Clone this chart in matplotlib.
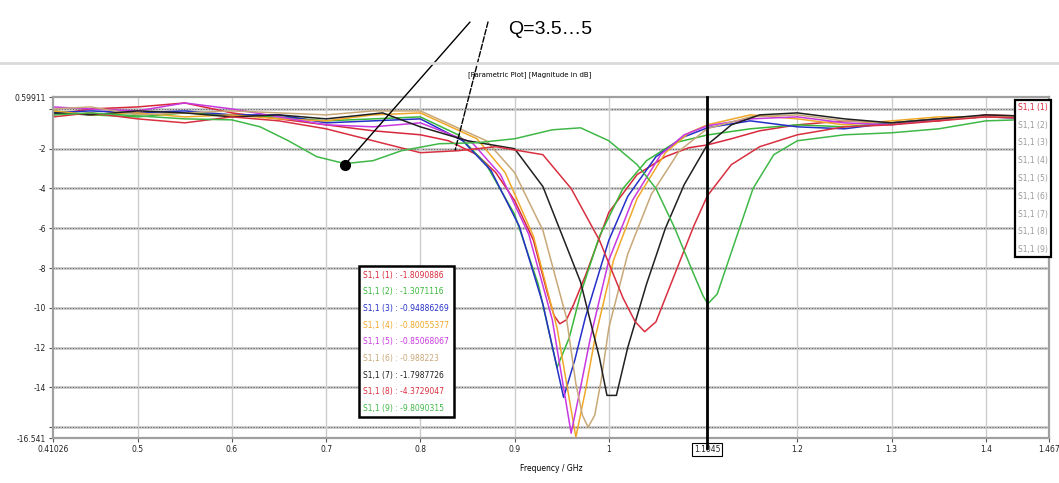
import matplotlib
matplotlib.use('Agg')
from matplotlib import pyplot as plt
from matplotlib.lines import Line2D

# frequencies (GHz) and S1,1 magnitude (dB), one pair per run
f1 = [0.41026, 0.45, 0.5, 0.55, 0.6, 0.65, 0.7, 0.75, 0.8, 0.83, 0.86, 0.88, 0.9, 0.92, 0.935, 0.942, 0.948, 0.955, 0.962, 0.975, 1.0, 1.03, 1.06, 1.085, 1.1045, 1.13, 1.16, 1.2, 1.25, 1.3, 1.35, 1.4, 1.467]
s1 = [-0.3, 0.0, 0.1, 0.3, -0.2, -0.5, -0.8, -1.1, -1.3, -1.6, -2.3, -3.2, -4.6, -6.6, -9.3, -10.4, -10.8, -10.6, -9.9, -8.4, -5.2, -3.3, -2.4, -1.95, -1.81, -1.5, -1.1, -0.8, -0.6, -0.7, -0.6, -0.3, -0.4]

f2 = [0.41026, 0.45, 0.5, 0.55, 0.6, 0.65, 0.7, 0.75, 0.8, 0.84, 0.87, 0.9, 0.925, 0.945, 0.958, 0.97, 0.99, 1.015, 1.04, 1.07, 1.1045, 1.15, 1.2, 1.25, 1.3, 1.35, 1.4, 1.467]
s2 = [-0.1, -0.3, -0.4, -0.2, -0.3, -0.4, -0.6, -0.5, -0.4, -1.3, -2.8, -5.3, -8.8, -13.0, -11.5, -9.3, -6.4, -4.0, -2.6, -1.7, -1.31, -1.0, -0.8, -0.9, -0.7, -0.5, -0.4, -0.5]

f3 = [0.41026, 0.45, 0.5, 0.55, 0.6, 0.65, 0.7, 0.75, 0.8, 0.845, 0.875, 0.905, 0.93, 0.952, 0.964, 0.975, 1.0, 1.02, 1.05, 1.08, 1.1045, 1.15, 1.2, 1.25, 1.3, 1.35, 1.4, 1.467]
s3 = [-0.2, -0.1, -0.2, -0.1, -0.3, -0.3, -0.7, -0.6, -0.5, -1.6, -3.1, -5.9, -9.8, -14.5, -12.6, -10.5, -6.6, -4.4, -2.4, -1.4, -0.95, -0.6, -0.9, -1.0, -0.7, -0.5, -0.4, -0.5]

f4 = [0.41026, 0.45, 0.5, 0.55, 0.6, 0.65, 0.7, 0.75, 0.8, 0.86, 0.89, 0.92, 0.945, 0.965, 0.975, 0.985, 1.005, 1.03, 1.06, 1.085, 1.1045, 1.15, 1.2, 1.25, 1.3, 1.35, 1.4, 1.467]
s4 = [-0.1, -0.3, -0.2, -0.4, -0.3, -0.5, -0.6, -0.3, -0.2, -1.5, -3.2, -6.4, -11.0, -16.5, -14.2, -11.6, -7.6, -4.5, -2.2, -1.2, -0.80, -0.3, -0.5, -0.8, -0.6, -0.4, -0.4, -0.3]

f5 = [0.41026, 0.45, 0.5, 0.55, 0.6, 0.65, 0.7, 0.75, 0.8, 0.855, 0.885, 0.915, 0.94, 0.96, 0.97, 0.98, 1.0, 1.025, 1.055, 1.08, 1.1045, 1.15, 1.2, 1.25, 1.3, 1.35, 1.4, 1.467]
s5 = [0.1, 0.0, -0.1, 0.3, 0.0, -0.4, -0.8, -0.9, -0.7, -1.7, -3.3, -6.3, -10.6, -16.3, -14.0, -11.6, -7.6, -4.6, -2.3, -1.3, -0.85, -0.5, -0.4, -0.7, -0.8, -0.5, -0.4, -0.5]

f6 = [0.41026, 0.45, 0.5, 0.55, 0.6, 0.65, 0.7, 0.75, 0.8, 0.87, 0.9, 0.93, 0.955, 0.965, 0.972, 0.978, 0.985, 0.992, 1.0, 1.02, 1.045, 1.075, 1.1045, 1.15, 1.2, 1.25, 1.3, 1.35, 1.4, 1.467]
s6 = [0.0, 0.1, -0.3, -0.2, -0.1, -0.2, -0.3, -0.1, -0.1, -1.6, -3.2, -6.1, -10.5, -13.8, -15.4, -16.0, -15.4, -13.6, -11.0, -7.3, -4.3, -2.1, -0.99, -0.4, -0.3, -0.6, -0.7, -0.5, -0.4, -0.4]

f7 = [0.41026, 0.45, 0.5, 0.55, 0.6, 0.65, 0.7, 0.76, 0.8, 0.85, 0.9, 0.93, 0.97, 0.99, 0.998, 1.008, 1.02, 1.04, 1.06, 1.08, 1.1045, 1.13, 1.16, 1.2, 1.25, 1.3, 1.35, 1.4, 1.467]
s7 = [-0.2, -0.3, -0.1, -0.2, -0.4, -0.3, -0.5, -0.2, -0.9, -1.6, -2.0, -3.9, -8.7, -12.5, -14.4, -14.4, -12.0, -8.8, -6.0, -3.8, -1.8, -0.8, -0.3, -0.2, -0.5, -0.7, -0.5, -0.3, -0.4]

f8 = [0.41026, 0.45, 0.5, 0.55, 0.6, 0.65, 0.7, 0.75, 0.8, 0.84, 0.88, 0.93, 0.96, 0.99, 1.015, 1.028, 1.038, 1.05, 1.07, 1.09, 1.1045, 1.13, 1.16, 1.2, 1.25, 1.3, 1.35, 1.4, 1.467]
s8 = [-0.4, -0.2, -0.5, -0.7, -0.4, -0.6, -1.0, -1.6, -2.2, -2.1, -1.9, -2.3, -4.0, -6.6, -9.5, -10.7, -11.2, -10.7, -8.3, -5.9, -4.37, -2.8, -1.9, -1.3, -0.9, -0.8, -0.6, -0.4, -0.5]

f9 = [0.41026, 0.45, 0.5, 0.55, 0.6, 0.63, 0.66, 0.69, 0.72, 0.75, 0.78, 0.82, 0.86, 0.9, 0.94, 0.97, 1.0, 1.03, 1.05, 1.07, 1.09, 1.1, 1.105, 1.115, 1.13, 1.153, 1.175, 1.2, 1.25, 1.3, 1.35, 1.4, 1.467]
s9 = [-0.3, -0.2, -0.35, -0.5, -0.55, -0.9, -1.6, -2.4, -2.75, -2.6, -2.1, -1.75, -1.7, -1.5, -1.05, -0.95, -1.6, -2.8, -4.0, -6.0, -8.3, -9.4, -9.8, -9.3, -7.2, -4.0, -2.3, -1.6, -1.3, -1.2, -1.0, -0.6, -0.5]

run_f = [f1, f2, f3, f4, f5, f6, f7, f8, f9]
run_s = [s1, s2, s3, s4, s5, s6, s7, s8, s9]
run_names = ['S1,1 (1)', 'S1,1 (2)', 'S1,1 (3)', 'S1,1 (4)', 'S1,1 (5)',
             'S1,1 (6)', 'S1,1 (7)', 'S1,1 (8)', 'S1,1 (9)']
marker_values = ['-1.8090886', '-1.3071116', '-0.94886269', '-0.80055377', '-0.85068067',
                 '-0.988223', '-1.7987726', '-4.3729047', '-9.8090315']
colors = ['#d8283c', '#38b838', '#2430c8', '#f0a828', '#c838e0',
          '#c8a878', '#202020', '#d83040', '#40b848']

marker_f = 1.1045
x_ticks = [0.41026, 0.5, 0.6, 0.7, 0.8, 0.9, 1.0, 1.1045, 1.2, 1.3, 1.4, 1.467]
x_labels = ['0.41026', '0.5', '0.6', '0.7', '0.8', '0.9', '1', '1.1045', '1.2', '1.3', '1.4', '1.467']
y_ticks = [0.59911, 0, -2, -4, -6, -8, -10, -12, -14, -16, -16.541]
y_labels = ['0.59911', '', '-2', '-4', '-6', '-8', '-10', '-12', '-14', '', '-16.541']

# points the "Q=3.5...5" lines point at
q_f = [0.72, 0.837]
q_db = [-2.8, -2.06]

fig = plt.figure(figsize=(10.59, 4.83), dpi=100)
ax = fig.add_axes([53/1059, 45/483, 996/1059, 341/483])

for f, s, c in zip(run_f, run_s, colors):
    ax.plot(f, s, color=c, lw=1.1)

ax.set_xlim(0.41026, 1.467)
ax.set_ylim(-16.541, 0.59911)
ax.set_xticks(x_ticks)
ax.set_xticklabels(x_labels, fontsize=5.5, color='#222222')
ax.set_yticks(y_ticks)
ax.set_yticklabels(y_labels, fontsize=5.5, color='#222222')
ax.tick_params(length=3, width=0.8, color='#555555', pad=2)

# grid
for y in y_ticks[1:-1]:
    ax.axhline(y, color='#c4c4c4', lw=1.8, zorder=0)
    ax.axhline(y, color='#666666', lw=0.8, ls=(0, (1, 1.5)), zorder=0)
for x in x_ticks[1:-1]:
    ax.axvline(x, color='#cccccc', lw=1.0, zorder=0)
for sp in ax.spines.values():
    sp.set_color('#a0a0a0')
    sp.set_linewidth(1.6)

# marker line at 1.1045
ax.axvline(marker_f, ymin=-0.03, ymax=1, color='black', lw=2, clip_on=False, zorder=5)
lab = ax.get_xticklabels()[x_ticks.index(marker_f)]
lab.set_bbox(dict(boxstyle='square,pad=0.25', fc='white', ec='black', lw=0.8))

ax.set_xlabel('Frequency / GHz', fontsize=5.5, labelpad=7)

# marker readout box
h = [Line2D([], [], linestyle='none') for _ in run_names]
leg1 = ax.legend(h, [n + ' : ' + v for n, v in zip(run_names, marker_values)],
                 loc='upper left', bbox_to_anchor=(0.303, 0.515), fontsize=5.5,
                 handlelength=0, handletextpad=0, labelspacing=1.0, borderpad=0.6,
                 frameon=True, fancybox=False, edgecolor='black', framealpha=1)
leg1.get_frame().set_linewidth(1.8)
for t, c in zip(leg1.get_texts(), colors):
    t.set_color(c)
ax.add_artist(leg1)

# run legend at the right
leg2 = ax.legend(h, run_names, loc='upper right', bbox_to_anchor=(1.006, 1.003), fontsize=5.5,
                 handlelength=0, handletextpad=0, labelspacing=1.15, borderpad=0.4,
                 frameon=True, fancybox=False, edgecolor='black', framealpha=1)
leg2.get_frame().set_linewidth(1.6)
for i, t in enumerate(leg2.get_texts()):
    t.set_color(colors[0] if i == 0 else '#9a9a9a')

# header
fig.add_artist(Line2D([0, 1], [1 - 63/483, 1 - 63/483], color='#dadada', lw=2))
fig.text(0.5, 1 - 75/483, '[Parametric Plot] [Magnitude in dB]', fontsize=5, ha='center', va='center')
fig.text(508/1059, 1 - 30/483, 'Q=3.5…5', fontsize=14, ha='left', va='center',
         family=['Liberation Sans', 'DejaVu Sans'])

ax.annotate('', xy=(q_f[0], q_db[0]), xytext=(470/1059, 1 - 22/483), textcoords='figure fraction',
            arrowprops=dict(arrowstyle='-', color='black', lw=1, shrinkA=0, shrinkB=0),
            annotation_clip=False)
ax.annotate('', xy=(q_f[1], q_db[1]), xytext=(488/1059, 1 - 22/483), textcoords='figure fraction',
            arrowprops=dict(arrowstyle='-', color='black', lw=1, ls=(0, (4, 1.5)), shrinkA=0, shrinkB=0),
            annotation_clip=False)
ax.plot(q_f[:1], q_db[:1], 'o', color='black', ms=7, zorder=6)

fig.savefig('out.png', dpi=100)
